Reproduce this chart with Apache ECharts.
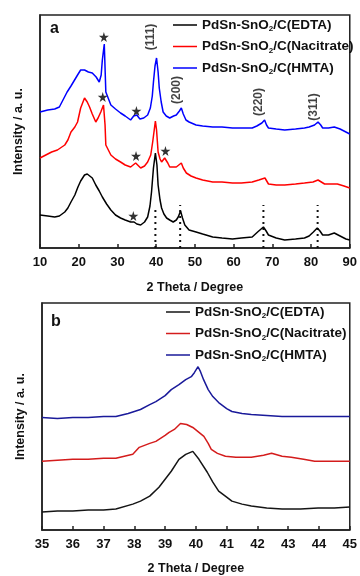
<!DOCTYPE html>
<html><head><meta charset="utf-8">
<script src="https://cdn.jsdelivr.net/npm/echarts@6/dist/echarts.min.js"></script>
<style>html,body{margin:0;padding:0;background:#fff}#c{width:360px;height:576px}</style>
</head><body><div id="c"></div>
<script>
// ---------- Panel a data: [2theta, intensity (a.u.)] ----------
const aEDTA = [[10,33],[12,32],[13.8,31],[15,32],[16.4,36],[17.2,40],[18,46],[19,53],[19.8,61],[20.5,67],[21.5,73],[22.2,74],[22.7,73],[23.5,70],[24.4,63],[25.3,57],[26.1,51],[27.2,44],[28.3,38],[29.5,33],[30.8,30],[32,28],[33.4,26],[34.3,26],[35,24],[36,23],[37,26],[37.8,31],[38.4,42],[38.8,56],[39.3,80],[39.8,95],[40.2,83],[40.5,63],[41,48],[41.4,40],[42,34],[42.7,30],[43.5,28],[44.4,26],[45.2,28],[45.7,31],[46.3,37],[46.8,30],[47.4,23],[48.5,18],[50.3,16],[52,14],[54.6,11],[57,10],[59.7,9],[62,10],[64.8,11],[66.2,16],[67.7,21],[68.4,17],[69,13],[71,10],[73.2,8],[76,9],[78.3,10],[79.5,12],[80.6,16],[81.6,20],[82.3,17],[83,13],[84.5,13],[86,15],[87.5,12],[89,9],[90,8]];
const aNacitrate = [[10,90],[11.5,93],[13,96],[14.5,98],[16.4,103],[17.2,108],[18,116],[19,121],[19.7,126],[20.5,140],[21.5,150],[22.2,146],[22.8,141],[23.5,134],[24.4,126],[25,130],[25.7,136],[26.4,143],[26.8,123],[27,103],[28.3,93],[29.5,89],[30.8,86],[32,83],[33.4,81],[34.7,85],[36,80],[37,82],[37.8,86],[38.6,93],[39.1,106],[39.5,118],[39.8,127],[40.1,118],[40.5,96],[41,89],[41.4,86],[42.2,90],[43,85],[43.5,81],[44.5,81],[45.2,81],[46.5,85],[47,80],[47.8,75],[49,72],[50.3,70],[52,68],[54.6,66],[57,66],[59.7,65],[62,65],[64.8,66],[66.5,68],[68.1,70],[69,64],[71,63],[73.2,63],[76,64],[78.3,65],[80.5,66],[81.8,68],[83.5,64],[85,64],[86.8,64],[88.5,62],[90,60]];
const aHMTA = [[10,136],[12,138],[13.8,139],[15,141],[17,156],[18,162],[19.7,173],[20.5,178],[21.5,178],[22.5,176],[23.5,175],[24.5,171],[25.3,166],[25.8,173],[26.1,188],[26.6,204],[27,156],[28.3,143],[29.5,139],[30.8,135],[32,132],[33.4,128],[34.2,132],[35,133],[35.8,129],[36.8,130],[37.8,133],[38.5,140],[39,152],[39.3,166],[39.7,182],[40.1,190],[40.5,176],[40.8,160],[41.3,146],[41.8,136],[42.6,132],[43.5,130],[44.5,132],[45.2,133],[46,137],[46.5,140],[47,134],[47.7,128],[48.5,126],[50.3,123],[52,122],[54.6,121],[57,121],[59.7,120],[62,120],[64.8,120],[66,122],[67.3,125],[68,128],[68.5,123],[69,120],[71,119],[73.2,118],[76,119],[78.3,120],[79.5,121],[80.9,123],[81.8,126],[82.5,123],[83,120],[84.5,120],[86,121],[87.5,119],[89,116],[90,114]];
const aStars = [[26.5,211],[34.9,137],[26.2,151],[34.8,92],[42.4,97],[34.1,32]];
const aHkl = [[38.5,211,'(111)'],[45.2,158,'(200)'],[66.6,146,'(220)'],[80.6,141,'(311)']];
const aDrop = [[39.8,40],[46.2,43],[67.7,43],[81.7,43]];
const aTicks = [10,20,30,40,50,60,70,80,90];

// ---------- Panel b data ----------
const bEDTA = [[35,18],[35.5,19],[36,19],[36.5,20],[37,20],[37.4,21],[37.95,26],[38.2,29],[38.5,34],[38.8,43],[39,51],[39.2,59],[39.45,71],[39.67,76],[39.9,79],[40.1,71],[40.37,58],[40.55,48],[40.74,39],[41,33],[41.17,29],[41.5,26],[41.8,24],[42.3,22],[42.8,21],[43.4,21],[43.97,22],[44.5,22],[45,23]];
const bNacitrate = [[35,69],[35.5,70],[36,71],[36.5,71],[37,72],[37.4,72],[37.95,76],[38.16,83],[38.5,87],[38.7,89],[39,95],[39.13,98],[39.3,101],[39.5,107],[39.7,106],[39.9,103],[40.1,98],[40.26,94],[40.4,87],[40.5,81],[40.7,77],[40.96,74],[41.3,73],[41.8,73],[42.2,75],[42.46,77],[42.8,74],[43.1,73],[43.5,71],[43.86,69],[44.4,69],[45,69]];
const bHMTA = [[35,113],[35.5,112],[36,113],[36.5,113],[37,114],[37.4,114],[37.8,117],[38.2,121],[38.5,126],[38.7,129],[39,135],[39.2,141],[39.45,146],[39.67,151],[39.85,154],[39.95,158],[40.07,164],[40.15,159],[40.25,151],[40.4,141],[40.55,134],[40.74,128],[41,122],[41.17,119],[41.5,117],[41.8,116],[42.3,115],[42.8,114],[43.3,114],[43.86,114],[44.4,114],[45,114]];
const bTicks = [35,36,37,38,39,40,41,42,43,44,45];

const names = ['PdSn-SnO2/C(EDTA)','PdSn-SnO2/C(Nacitrate)','PdSn-SnO2/C(HMTA)'];
const namesB = ['b: PdSn-SnO2/C(EDTA)','b: PdSn-SnO2/C(Nacitrate)','b: PdSn-SnO2/C(HMTA)'];

const FONT = '"Liberation Sans", Arial, sans-serif';
const chart = echarts.init(document.getElementById('c'), null, {renderer:'canvas'});
const fmt = n => n.replace(/^b: /,'').replace('SnO2','SnO{sub|2}');
const legendText = {fontFamily:FONT, fontWeight:'bold', fontSize:13.5, color:'#111', lineHeight:16,
  rich:{sub:{fontFamily:FONT, fontWeight:'bold', fontSize:8, lineHeight:5, verticalAlign:'bottom', color:'#111'}}};
const xAxisCommon = {type:'value', axisLine:{lineStyle:{color:'#222', width:1.5}}, axisTick:{inside:true, length:4, lineStyle:{color:'#222', width:1.5}},
  splitLine:{show:false}, axisLabel:{fontFamily:FONT, fontWeight:'bold', fontSize:13, color:'#111', margin:8},
  name:'2 Theta / Degree', nameLocation:'middle', nameTextStyle:{fontFamily:FONT, fontWeight:'bold', fontSize:12.5, color:'#111'}};
const yAxisCommon = {type:'value', axisLine:{show:true, lineStyle:{color:'#222', width:1.5}}, axisTick:{show:false}, axisLabel:{show:false}, splitLine:{show:false},
  name:'Intensity / a. u.', nameLocation:'middle', nameRotate:90, nameGap:15, nameTextStyle:{fontFamily:FONT, fontWeight:'bold', fontSize:12.5, color:'#111'}};
const line = (name, data, color, xi) => ({name, type:'line', data, xAxisIndex:xi, yAxisIndex:xi, symbol:'none', lineStyle:{color, width:1.5}, itemStyle:{color}, animation:false, z:3});
const STAR = 'path://M50,0 L61,35 L98,35 L68,57 L79,91 L50,70 L21,91 L32,57 L2,35 L39,35 Z';

const series = [
  line(names[0], aEDTA, '#000000', 0),
  line(names[1], aNacitrate, '#ff0000', 0),
  line(names[2], aHMTA, '#0000ff', 0),
  line(namesB[0], bEDTA, '#151515', 1),
  line(namesB[1], bNacitrate, '#d41c1c', 1),
  line(namesB[2], bHMTA, '#1a1a9a', 1),
  {type:'scatter', data:aStars, xAxisIndex:0, yAxisIndex:0, symbol:STAR, symbolSize:10, itemStyle:{color:'#000'}, z:5, animation:false, silent:true},
  {type:'scatter', data:aHkl, xAxisIndex:0, yAxisIndex:0, symbolSize:0, z:5, animation:false, silent:true,
    label:{show:true, position:'inside', rotate:90, formatter:p=>p.data[2], fontFamily:FONT, fontWeight:'bold', fontSize:12, color:'#111'}}
];
aDrop.forEach(d => series.push({type:'line', data:[[d[0],0],[d[0],d[1]]], xAxisIndex:0, yAxisIndex:0, symbol:'none',
  lineStyle:{color:'#111', width:2, type:[2,4]}, animation:false, silent:true, z:2}));

const legendCommon = {orient:'vertical', padding:0, itemWidth:24, itemHeight:1.5, icon:'rect', itemGap:5.5, formatter:fmt, textStyle:legendText, selectedMode:false};
chart.setOption({
  animation:false,
  grid:[{left:40, right:6, top:15, height:233, show:true, borderColor:'#222', borderWidth:1.5},
        {left:42, right:8, top:303, height:228, show:true, borderColor:'#222', borderWidth:1.5}],
  xAxis:[Object.assign({}, xAxisCommon, {gridIndex:0, min:10, max:90, interval:10, nameGap:33}),
         Object.assign({}, xAxisCommon, {gridIndex:1, min:35, max:45, interval:1, nameGap:32})],
  yAxis:[Object.assign({}, yAxisCommon, {gridIndex:0, min:0, max:233}),
         Object.assign({}, yAxisCommon, {gridIndex:1, min:0, max:228})],
  legend:[Object.assign({}, legendCommon, {data:names, left:173, top:17}),
          Object.assign({}, legendCommon, {data:namesB, left:166, top:304})],
  graphic:[{type:'text', left:50, top:21, style:{text:'a', font:'bold 16px '+FONT, fill:'#111'}},
           {type:'text', left:51, top:314, style:{text:'b', font:'bold 16px '+FONT, fill:'#111'}}],
  series
});
</script></body></html>
